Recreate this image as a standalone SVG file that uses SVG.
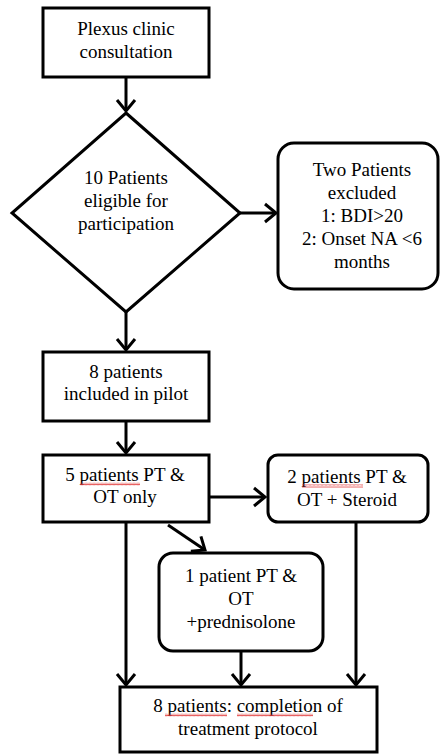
<svg xmlns="http://www.w3.org/2000/svg" width="441" height="755" viewBox="0 0 441 755">
<defs>
<style>
.box{fill:#fff;stroke:#000;stroke-width:3}
.t{font-family:"Liberation Serif","Times New Roman",serif;font-size:19px;fill:#000;text-anchor:middle}
.c{fill:none;stroke:#000;stroke-width:3}
</style>
<marker id="ah" markerUnits="userSpaceOnUse" viewBox="-15 -12 18 24" markerWidth="18" markerHeight="24" refX="0" refY="0" orient="auto">
<path d="M-11,-9 L0,0 L-11,9" fill="none" stroke="#000" stroke-width="3" stroke-linejoin="miter"/>
</marker>
<pattern id="wave" patternUnits="userSpaceOnUse" width="4" height="3">
<path d="M0,2.5 L1,0.5 L2,2.5 L3,0.5 L4,2.5" fill="none" stroke="#e23a3a" stroke-width="0.8"/>
</pattern>
</defs>
<rect width="441" height="755" fill="#fff"/>
<g id="connectors">
<line class="c" x1="126" y1="77" x2="126" y2="111" marker-end="url(#ah)"/>
<line class="c" x1="240" y1="213" x2="276" y2="213" marker-end="url(#ah)"/>
<line class="c" x1="126" y1="312" x2="126" y2="350" marker-end="url(#ah)"/>
<line class="c" x1="126" y1="421" x2="126" y2="453" marker-end="url(#ah)"/>
<line class="c" x1="209" y1="497" x2="265" y2="497" marker-end="url(#ah)"/>
<line class="c" x1="168" y1="525" x2="205" y2="550" marker-end="url(#ah)"/>
<line class="c" x1="126" y1="522" x2="126" y2="685" marker-end="url(#ah)"/>
<line class="c" x1="241" y1="651" x2="241" y2="685" marker-end="url(#ah)"/>
<line class="c" x1="356" y1="522" x2="356" y2="685" marker-end="url(#ah)"/>
</g>
<g id="plexus">
<rect class="box" x="43" y="8" width="166" height="69"/>
<text class="t" x="126" y="35">Plexus clinic</text>
<text class="t" x="126" y="57.5">consultation</text>
</g>
<g id="eligible">
<polygon class="box" points="126,113 240,213 126,312 12,213"/>
<text class="t" x="126" y="184">10 Patients</text>
<text class="t" x="126" y="207">eligible for</text>
<text class="t" x="126" y="230">participation</text>
</g>
<g id="excluded">
<rect class="box" x="278" y="143" width="160" height="146" rx="16"/>
<text class="t" x="362" y="176">Two Patients</text>
<text class="t" x="362" y="199">excluded</text>
<text class="t" x="362" y="222">1: BDI&gt;20</text>
<text class="t" x="362" y="245">2: Onset NA &lt;6</text>
<text class="t" x="362" y="268">months</text>
</g>
<g id="included">
<rect class="box" x="43" y="352" width="166" height="69"/>
<text class="t" x="126" y="378">8 patients</text>
<text class="t" x="126" y="400">included in pilot</text>
</g>
<g id="ptot">
<rect class="box" x="43" y="455" width="166" height="67"/>
<text class="t" x="125" y="481">5 patients PT &amp;</text>
<text class="t" x="125" y="503">OT only</text>
<rect x="80" y="482.5" width="60" height="3" fill="url(#wave)"/>
</g>
<g id="steroid">
<rect class="box" x="268" y="455" width="160" height="67" rx="10"/>
<text class="t" x="347" y="483">2 patients PT &amp;</text>
<text class="t" x="347" y="506">OT + Steroid</text>
<rect x="302" y="484.5" width="61" height="3" fill="url(#wave)"/>
</g>
<g id="prednisolone">
<rect class="box" x="159" y="553" width="164" height="98" rx="14"/>
<text class="t" x="241" y="582">1 patient PT &amp;</text>
<text class="t" x="241" y="605">OT</text>
<text class="t" x="241" y="627.5">+prednisolone</text>
</g>
<g id="completion">
<rect class="box" x="120" y="687" width="257" height="65"/>
<text class="t" x="248" y="712">8 patients: completion of</text>
<text class="t" x="248" y="735">treatment protocol</text>
<rect x="165" y="713.5" width="62" height="3" fill="url(#wave)"/>
<rect x="237" y="713.5" width="76" height="3" fill="url(#wave)"/>
</g>
</svg>
